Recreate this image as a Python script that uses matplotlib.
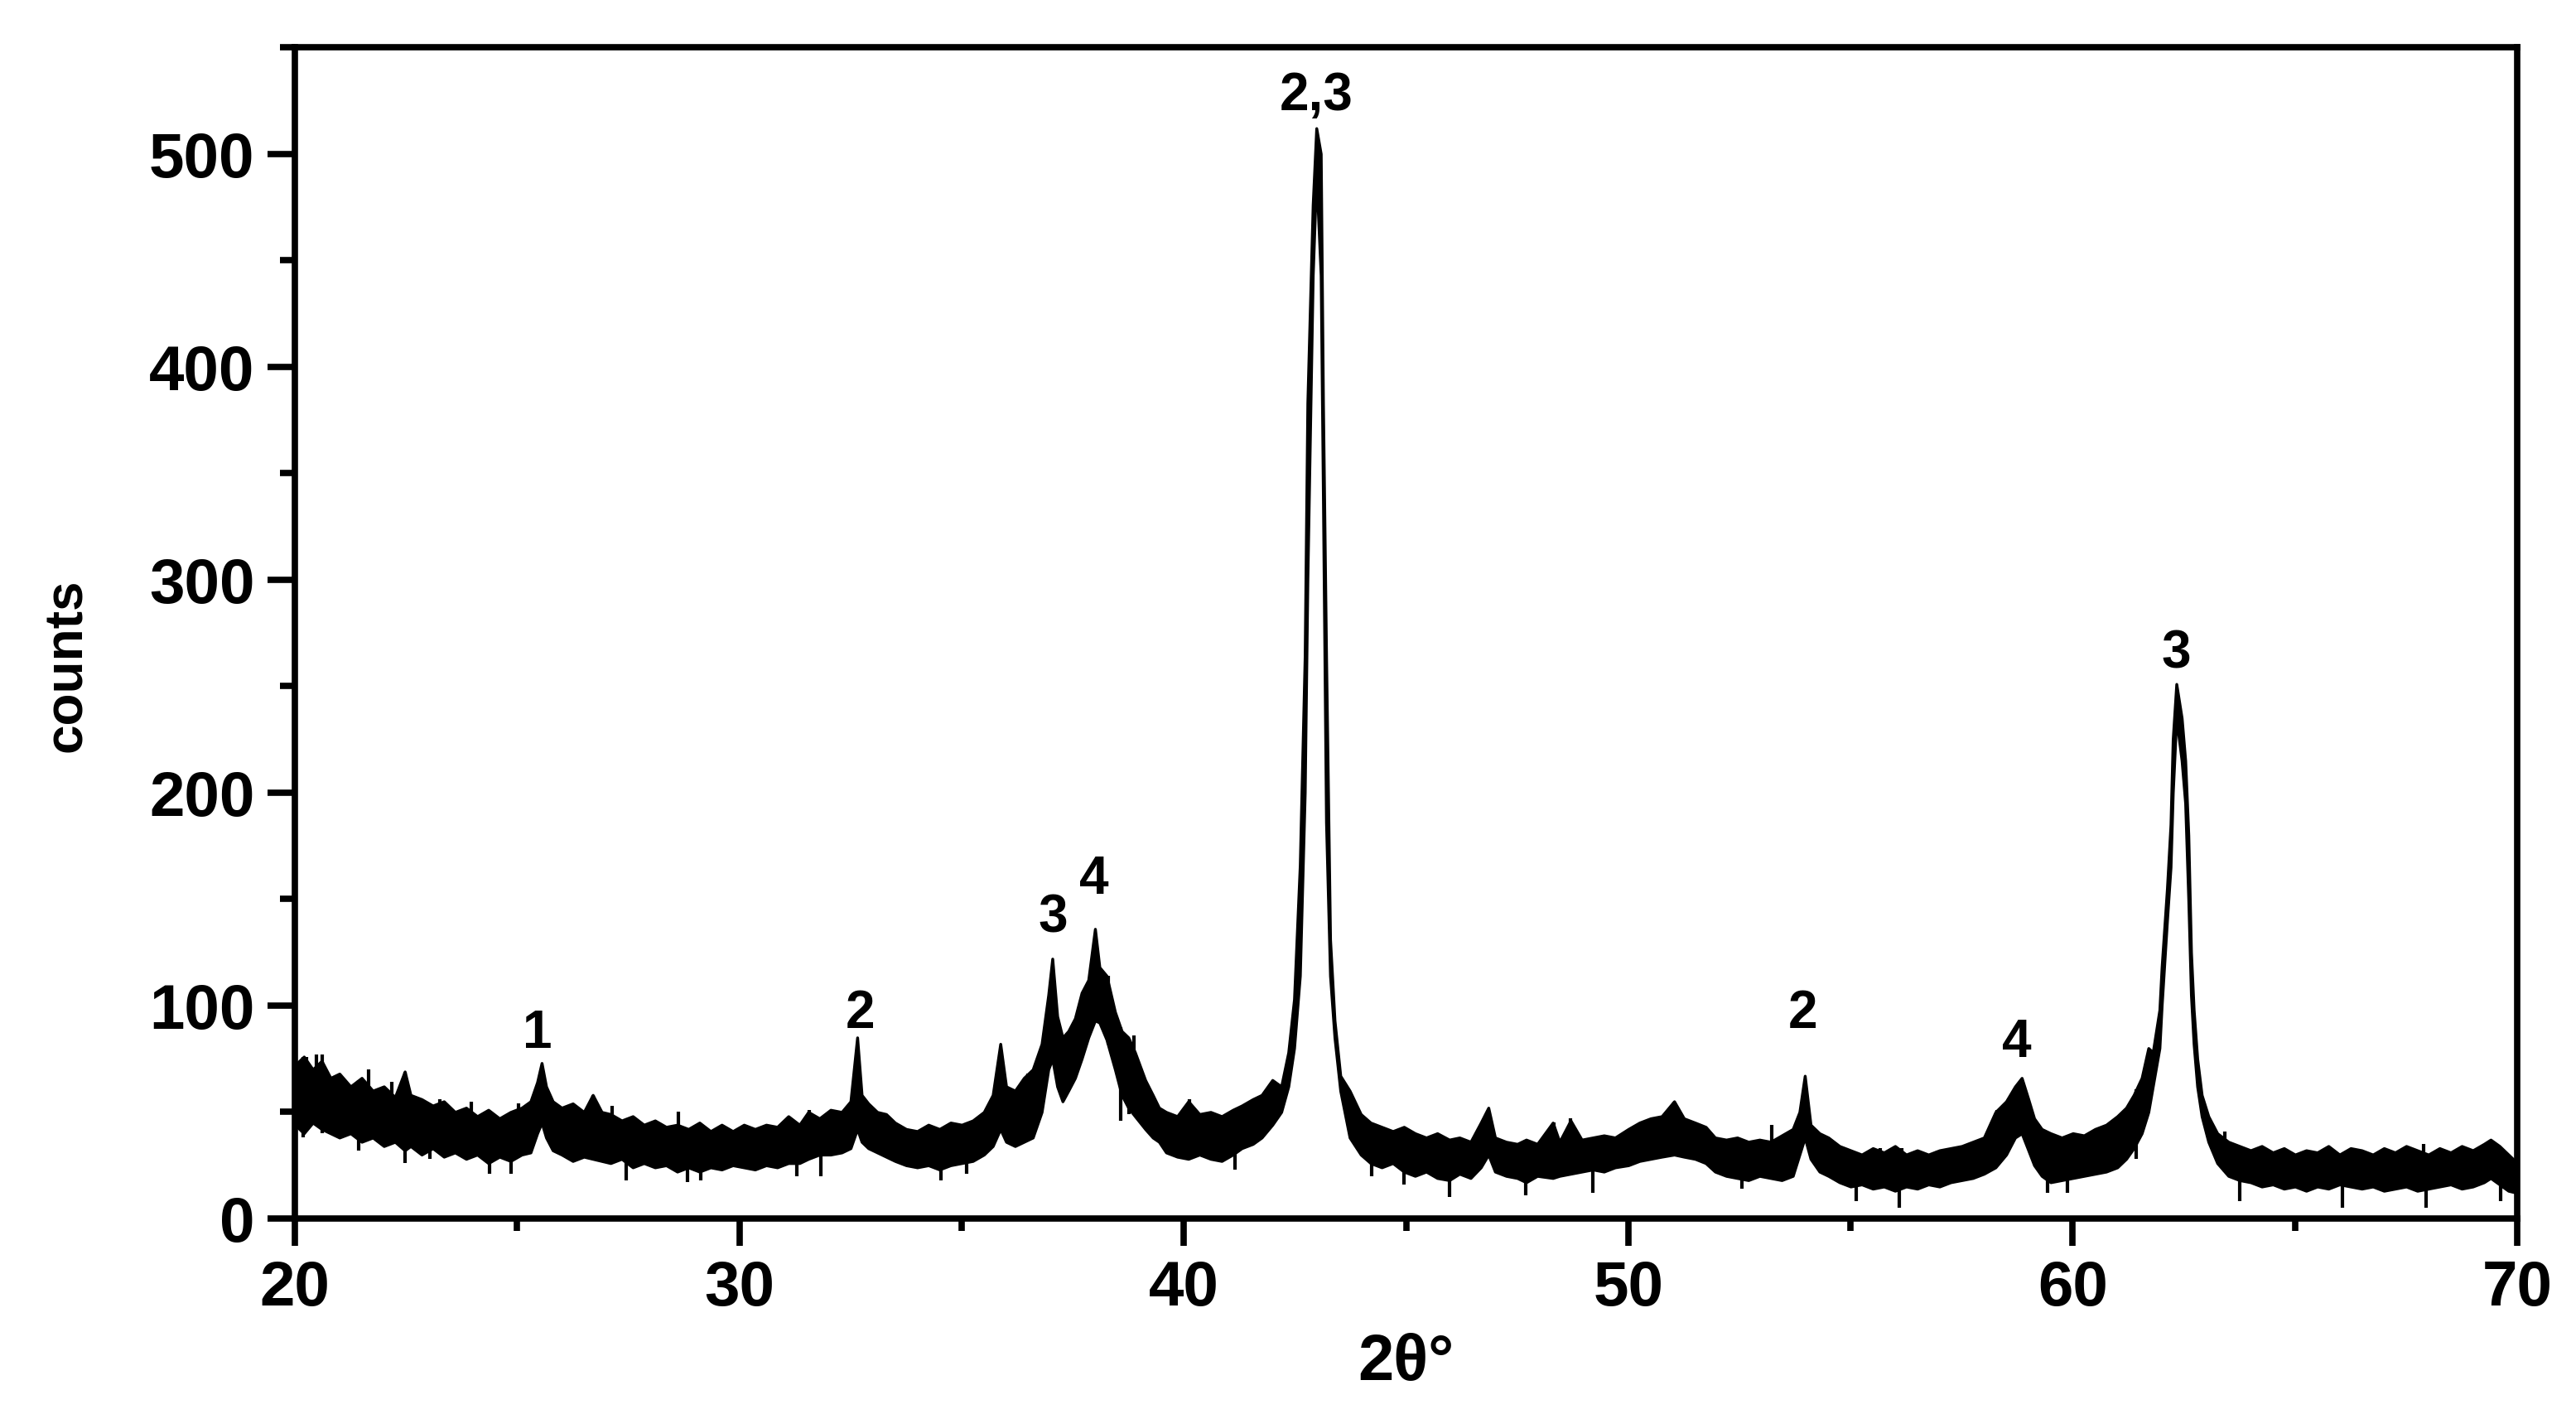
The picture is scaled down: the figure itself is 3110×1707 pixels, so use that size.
import matplotlib
matplotlib.use("Agg")
import numpy as np
import matplotlib.pyplot as plt
from matplotlib.ticker import MultipleLocator

plt.rcParams['font.family'] = ['Liberation Sans', 'DejaVu Sans']
plt.rcParams['font.weight'] = 'bold'

# --- data: 2theta knots with the lower / upper edge of the noisy trace ---
two_theta = [
    20.0, 20.2, 20.4, 20.6, 20.8, 21.0, 21.25, 21.5, 21.75, 22.0, 22.25, 22.47, 22.6, 22.85,
    23.1, 23.35, 23.6, 23.85, 24.1, 24.35, 24.6, 24.85, 25.1, 25.3, 25.45, 25.55, 25.65, 25.8,
    26.0, 26.25, 26.5, 26.7, 26.9, 27.1, 27.35, 27.6, 27.85, 28.1, 28.35, 28.6, 28.85, 29.1,
    29.35, 29.6, 29.85, 30.1, 30.35, 30.6, 30.85, 31.1, 31.35, 31.55, 31.8, 32.05, 32.3, 32.5,
    32.65, 32.75, 32.9, 33.1, 33.3, 33.5, 33.75, 34.0, 34.25, 34.5, 34.75, 35.0, 35.25, 35.5,
    35.7, 35.87, 36.0, 36.2, 36.4, 36.6, 36.8, 36.95, 37.04, 37.15, 37.27, 37.4, 37.55, 37.7,
    37.85, 38.0, 38.1, 38.26, 38.45, 38.6, 38.75, 38.9, 39.13, 39.3, 39.44, 39.6, 39.85, 40.1,
    40.35, 40.6, 40.85, 41.1, 41.3, 41.55, 41.75, 41.99, 42.19, 42.35, 42.48, 42.61, 42.72,
    42.78, 42.9, 42.98, 43.08, 43.13, 43.2, 43.29, 43.39, 43.52, 43.73, 43.98, 44.2, 44.45,
    44.7, 44.95, 45.2, 45.45, 45.7, 45.97, 46.2, 46.45, 46.68, 46.85, 47.0, 47.25, 47.5, 47.7,
    47.95, 48.3, 48.45, 48.7, 48.95, 49.2, 49.45, 49.7, 50.0, 50.25, 50.5, 50.75, 51.03, 51.25,
    51.5, 51.74, 51.95, 52.2, 52.45, 52.7, 52.95, 53.2, 53.45, 53.7, 53.85, 53.97, 54.1, 54.3,
    54.5, 54.75, 55.0, 55.25, 55.5, 55.75, 56.0, 56.25, 56.5, 56.75, 57.0, 57.25, 57.5, 57.75,
    58.0, 58.26, 58.5, 58.7, 58.85, 59.0, 59.13, 59.3, 59.5, 59.75, 60.0, 60.25, 60.5, 60.75,
    61.0, 61.2, 61.37, 61.55, 61.7, 61.8, 61.95, 62.0, 62.12, 62.2, 62.25, 62.33, 62.45, 62.53,
    62.6, 62.66, 62.72, 62.8, 62.9, 63.05, 63.25, 63.5, 63.75, 64.0, 64.25, 64.5, 64.75, 65.0,
    65.25, 65.5, 65.75, 66.0, 66.25, 66.5, 66.75, 67.0, 67.25, 67.5, 67.75, 68.0, 68.25, 68.5,
    68.75, 69.0, 69.25, 69.4, 69.6, 69.8, 70.0,
]
counts_low = [
    44, 40, 45, 42, 40, 38, 40, 36, 38, 34, 36, 32, 34, 30,
    33, 29, 31, 28, 30, 26, 29, 27, 30, 31, 40, 45, 38, 32,
    30, 27, 29, 28, 27, 26, 28, 24, 26, 24, 25, 22, 24, 22,
    24, 23, 25, 24, 23, 25, 24, 26, 26, 28, 30, 30, 31, 33,
    42, 36, 33, 31, 29, 27, 25, 24, 25, 23, 25, 26, 27, 30,
    34, 42, 36, 34, 36, 38, 50, 70, 75, 62, 55, 60, 66, 75,
    85, 93, 92, 84, 70, 58, 52, 48, 42, 38, 36, 31, 29, 28,
    30, 28, 27, 30, 33, 35, 38, 44, 50, 62, 80, 114, 200,
    300, 443, 490, 443, 340, 186, 114, 85, 60, 38, 30, 26, 24,
    26, 22, 20, 22, 19, 18, 21, 19, 24, 30, 22, 20, 19, 17,
    20, 19, 20, 21, 22, 23, 22, 24, 25, 27, 28, 29, 30, 29,
    28, 26, 22, 20, 19, 18, 20, 19, 18, 20, 30, 38, 28, 22,
    20, 17, 15, 16, 14, 15, 13, 15, 14, 16, 15, 17, 18, 19,
    21, 24, 30, 38, 40, 32, 25, 20, 17, 18, 19, 20, 21, 22,
    24, 28, 33, 40, 50, 62, 80, 100, 140, 165, 200, 235, 215, 195,
    150, 105, 82, 62, 48, 36, 26, 20, 18, 17, 15, 16, 14, 15,
    13, 15, 14, 16, 15, 14, 15, 13, 14, 15, 13, 14, 15, 16,
    14, 15, 17, 19, 16, 13, 12,
]
counts_high = [
    72, 76, 70, 74, 66, 68, 62, 66, 60, 62, 57, 69, 58, 56,
    53, 55, 50, 52, 48, 51, 47, 50, 52, 55, 64, 73, 62, 55,
    52, 54, 50, 58, 50, 49, 46, 48, 44, 46, 43, 44, 42, 45,
    41, 44, 41, 44, 42, 44, 43, 48, 44, 50, 47, 51, 50, 55,
    85, 58, 54, 50, 49, 45, 42, 41, 44, 42, 45, 44, 46, 50,
    58, 82, 62, 60, 66, 70, 82, 105, 122, 95, 85, 88, 94, 106,
    112, 136, 118, 114, 97, 88, 85, 78, 65, 58, 52, 50, 48, 55,
    49, 50, 48, 51, 53, 56, 58, 65, 62, 78, 103, 166, 264,
    383, 476, 512, 500, 383, 264, 131, 93, 67, 60, 49, 45, 43,
    41, 43, 40, 38, 40, 37, 38, 36, 45, 52, 38, 36, 35, 37,
    35, 45, 36, 46, 37, 38, 39, 38, 42, 45, 47, 48, 55, 47,
    45, 43, 38, 37, 38, 36, 37, 36, 39, 42, 50, 67, 44, 40,
    38, 34, 32, 30, 33, 31, 34, 30, 32, 30, 32, 33, 34, 36,
    38, 50, 55, 62, 66, 56, 47, 42, 40, 38, 40, 39, 42, 44,
    48, 52, 58, 66, 80, 78, 98, 118, 155, 185, 225, 251, 235, 215,
    180, 125, 98, 75, 58, 48, 40, 36, 34, 32, 34, 31, 33, 30,
    32, 31, 34, 30, 33, 32, 30, 33, 31, 34, 32, 30, 33, 31,
    34, 32, 35, 37, 34, 30, 26,
]

# single noise spikes that stick out of the band
spike_up_x = [20.25, 20.48, 20.62, 21.65, 22.17, 23.26, 23.97, 25.03, 26.71, 27.14,
              28.62, 31.58, 36.49, 36.74, 38.29, 38.88, 40.13, 48.33, 48.7, 51.03,
              53.23, 55.66, 56.15, 56.96, 58.3, 63.42, 66.4, 67.89, 69.41]
spike_up_top = [76, 77, 77, 70, 64, 56, 55, 54, 58, 53,
                50, 51, 68, 71, 114, 86, 56, 45, 47, 55,
                44, 33, 33, 32, 51, 41, 32, 35, 36]
spike_down_x = [20.19, 20.62, 21.43, 22.47, 23.04, 24.38, 24.87, 27.45, 28.83, 29.13,
                31.3, 31.83, 34.53, 35.12, 38.57, 38.76, 41.15, 44.22, 44.96, 45.97,
                47.7, 49.2, 52.55, 55.13, 56.09, 59.44, 59.88, 61.43, 63.76, 66.06,
                67.95, 69.63]
spike_down_bottom = [38, 40, 32, 26, 28, 21, 21, 18, 17, 18,
                     20, 20, 18, 21, 46, 49, 23, 20, 16, 10,
                     11, 12, 14, 8, 5, 12, 12, 28, 8, 5,
                     5, 8]

# peak assignments
peak_labels = ['1', '2', '3', '4', '2,3', '2', '4', '3']
peak_x = [25.46, 32.72, 37.05, 37.98, 42.98, 53.92, 58.73, 62.33]
peak_y = [80.5, 90.0, 134.6, 152.8, 521, 90.0, 76.2, 258.8]

fig = plt.figure(figsize=(31.1, 17.08), dpi=100)
ax = fig.add_axes([0.1145, 0.1382, 0.8627, 0.8278])

ax.fill_between(two_theta, counts_low, counts_high, facecolor='black',
                edgecolor='black', linewidth=2.5)
ax.vlines(spike_up_x, np.interp(spike_up_x, two_theta, counts_low), spike_up_top,
          color='black', linewidth=3)
ax.vlines(spike_down_x, spike_down_bottom, np.interp(spike_down_x, two_theta, counts_high),
          color='black', linewidth=3)

for lab, px, py in zip(peak_labels, peak_x, peak_y):
    ax.text(px, py, lab, ha='center', va='baseline', fontsize=46, fontweight='bold')

ax.set_xlim(20, 70)
ax.set_ylim(0, 550)
ax.xaxis.set_major_locator(MultipleLocator(10))
ax.xaxis.set_minor_locator(MultipleLocator(5))
ax.yaxis.set_major_locator(MultipleLocator(100))
ax.yaxis.set_minor_locator(MultipleLocator(50))

for sp in ax.spines.values():
    sp.set_linewidth(5.5)
ax.tick_params(which='major', direction='out', length=24, width=5.5,
               labelsize=55, pad=11)
ax.tick_params(axis='x', which='minor', direction='out', length=11, width=5.5)
ax.tick_params(axis='y', which='minor', direction='out', length=13, width=5.5)
for lbl in ax.get_xticklabels() + ax.get_yticklabels():
    lbl.set_fontweight('bold')

ax.set_xlabel('2θ°', fontsize=56, fontweight='bold')
ax.xaxis.set_label_coords(0.5, -0.097)
ax.xaxis.label.set_va('top')
fig.text(0.026, 0.530, 'counts', rotation=90, ha='center', va='center',
         fontsize=46, fontweight='bold')

fig.savefig('out.png', dpi=100)
